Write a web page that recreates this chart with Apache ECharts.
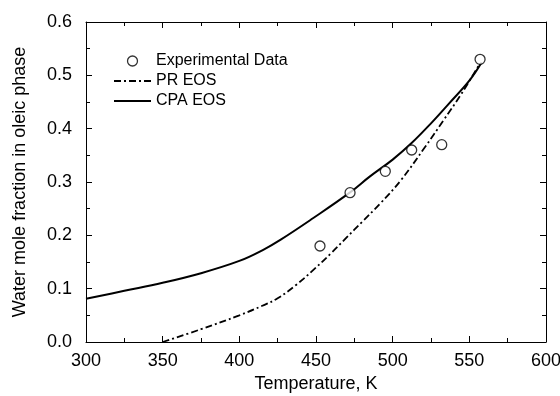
<!DOCTYPE html>
<html>
<head>
<meta charset="utf-8">
<script src="https://cdn.jsdelivr.net/npm/echarts@6/dist/echarts.min.js"></script>
<style>
  html, body { margin: 0; padding: 0; background: #fff; }
  #chartmain { width: 560px; height: 396px; }
</style>
</head>
<body>
<div id="chartmain"></div>
<script>
// measured points, [T in K, water mole fraction]
var expData = [[452.6, 0.18], [472.2, 0.28], [495.2, 0.32], [512.4, 0.36], [532, 0.37], [557, 0.53]];

// model curves
var prTemp = [350, 375, 400, 415, 425, 437, 449, 460, 470, 480, 492, 505, 521, 533, 545, 556];
var prFrac = [0.0, 0.024, 0.05, 0.068, 0.082, 0.107, 0.137, 0.167, 0.196, 0.225, 0.26, 0.302, 0.365, 0.415, 0.466, 0.518];

var cpaTemp = [300, 325, 350, 375, 400, 415, 427, 448, 472, 485, 500, 512, 525, 537, 550, 558];
var cpaFrac = [0.081, 0.096, 0.111, 0.129, 0.152, 0.172, 0.192, 0.232, 0.28, 0.31, 0.342, 0.372, 0.41, 0.448, 0.49, 0.524];

var pairUp = function(xs, ys){
    var out = [];
    for(var i = 0; i < xs.length; i++){
        out.push([xs[i], ys[i]]);
    }
    return out;
};

var font = '"Liberation Sans", Arial, sans-serif';

// fresh object each time - sharing one between axes kills the ticks in v6
var makeAxis = function(kind, pos, extra){
    var ax = {
        type: 'value',
        position: pos,
        axisLine: { show: true, onZero: false, lineStyle: { color: '#000', width: 1 } },
        axisTick: { show: true, inside: true, length: 6, lineStyle: { color: '#000', width: 1 } },
        minorTick: { show: true, splitNumber: 2, length: 4, lineStyle: { color: '#000', width: 1 } },
        splitLine: { show: false },
        minorSplitLine: { show: false },
        axisLabel: { show: false }
    };
    if(kind == 'x'){
        ax.min = 300; ax.max = 600; ax.interval = 50;
    } else {
        ax.min = 0; ax.max = 0.6; ax.interval = 0.1;
    }
    for(var k in extra){
        ax[k] = extra[k];
    }
    return ax;
};

var chart = echarts.init(document.getElementById('chartmain'));

chart.setOption({
    animation: false,
    backgroundColor: '#fff',
    textStyle: { fontFamily: font, color: '#000' },
    grid: { left: 86, right: 14, top: 22, bottom: 54, outerBoundsMode: 'none' },
    legend: {
        orient: 'vertical',
        left: 108,
        top: 48,
        itemWidth: 37,
        itemHeight: 10,
        itemGap: 4,
        textStyle: { fontFamily: font, fontSize: 16, color: '#000', lineHeight: 16 },
        data: [
            { name: 'Experimental Data', itemStyle: { color: '#fff', borderColor: '#000', borderWidth: 1.3 } },
            { name: 'PR EOS', itemStyle: { color: 'rgba(0,0,0,0)', borderWidth: 0 } },
            { name: 'CPA EOS', itemStyle: { color: 'rgba(0,0,0,0)', borderWidth: 0 } }
        ]
    },
    xAxis: [
        makeAxis('x', 'bottom', {
            name: 'Temperature, K',
            nameLocation: 'middle',
            nameGap: 32,
            nameTextStyle: { fontFamily: font, fontSize: 18, color: '#000' },
            axisLabel: { show: true, fontFamily: font, fontSize: 18, color: '#000', margin: 10 }
        }),
        makeAxis('x', 'top', {})
    ],
    yAxis: [
        makeAxis('y', 'left', {
            name: 'Water mole fraction in oleic phase',
            nameLocation: 'middle',
            nameGap: 57,
            nameTextStyle: { fontFamily: font, fontSize: 18, color: '#000' },
            axisLabel: {
                show: true, fontFamily: font, fontSize: 18, color: '#000', margin: 14,
                formatter: function(v){ return v.toFixed(1); }
            }
        }),
        makeAxis('y', 'right', {})
    ],
    series: [
        {
            name: 'Experimental Data',
            type: 'scatter',
            symbol: 'circle',
            symbolSize: 10,
            itemStyle: { color: '#fff', borderColor: '#000', borderWidth: 1.3 },
            data: expData,
            z: 5
        },
        {
            name: 'PR EOS',
            type: 'line',
            symbol: 'none',
            smooth: 0.4,
            lineStyle: { color: '#000', width: 1.8, type: [7, 3, 2, 3] },
            itemStyle: { color: '#000' },
            data: pairUp(prTemp, prFrac)
        },
        {
            name: 'CPA EOS',
            type: 'line',
            symbol: 'none',
            smooth: 0.4,
            lineStyle: { color: '#000', width: 2 },
            itemStyle: { color: '#000' },
            data: pairUp(cpaTemp, cpaFrac)
        }
    ]
});
</script>
</body>
</html>
